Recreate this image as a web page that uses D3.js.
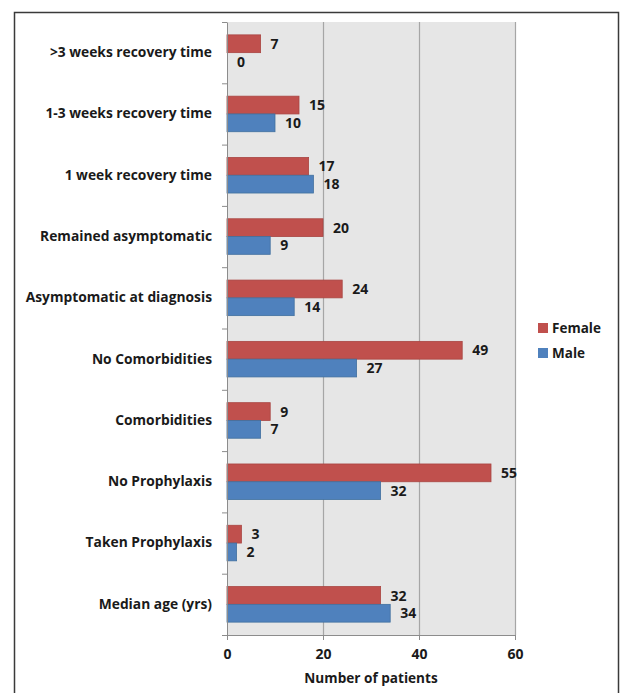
<!DOCTYPE html>
<html>
<head>
<meta charset="utf-8">
<script src="https://cdn.jsdelivr.net/npm/d3@7"></script>
<style>
  body { margin: 0; background: #fff; }
  svg { display: block; font-family: "Open Sans", sans-serif; }
</style>
</head>
<body>
<svg id="chart" width="620" height="693"></svg>
<script>
// categories top to bottom
const categories = [
  ">3 weeks recovery time",
  "1-3 weeks recovery time",
  "1 week recovery time",
  "Remained asymptomatic",
  "Asymptomatic at diagnosis",
  "No Comorbidities",
  "Comorbidities",
  "No Prophylaxis",
  "Taken Prophylaxis",
  "Median age (yrs)"
];
const femaleValues = [7, 15, 17, 20, 24, 49, 9, 55, 3, 32];
const maleValues = [0, 10, 18, 9, 14, 27, 7, 32, 2, 34];
const seriesNames = ["Female", "Male"];
const xTicks = [0, 20, 40, 60];

const colors = { Female: "#c0504d", Male: "#4f81bd" };
const strokes = { Female: "#a94542", Male: "#41709f" };
const font = "'Open Sans', sans-serif";

const svg = d3.select("#chart");
const margin = { left: 227, right: 105, top: 22, bottom: 58 };
const width = 620, height = 693;

// outer frame
svg.append("rect")
  .attr("x", 14.5).attr("y", 12.5)
  .attr("width", 604).attr("height", 700)
  .attr("fill", "none")
  .attr("stroke", "#3a3a3a")
  .attr("stroke-width", 1.5);

const x = d3.scaleLinear()
  .domain([0, 60])
  .range([margin.left, width - margin.right]);

const y = d3.scaleBand()
  .domain(categories)
  .range([margin.top, height - margin.bottom])
  .paddingInner(0.42)
  .paddingOuter(0.21);

const ySub = d3.scaleBand()
  .domain(seriesNames)
  .range([0, y.bandwidth()]);

// plot background
svg.append("rect")
  .attr("x", x(0)).attr("y", margin.top)
  .attr("width", x(60) - x(0))
  .attr("height", height - margin.bottom - margin.top)
  .attr("fill", "#e6e6e6");

// gridlines
svg.append("g")
  .selectAll("line")
  .data(xTicks.filter(d => d > 0))
  .join("line")
  .attr("x1", d => x(d) + 0.5).attr("x2", d => x(d) + 0.5)
  .attr("y1", margin.top).attr("y2", height - margin.bottom)
  .attr("stroke", "#a6a6a6")
  .attr("stroke-width", 1.2);

const data = categories.map((c, i) => ({
  cat: c,
  vals: [
    { s: "Female", v: femaleValues[i] },
    { s: "Male", v: maleValues[i] }
  ]
}));

const groups = svg.append("g")
  .selectAll("g")
  .data(data)
  .join("g")
  .attr("transform", d => `translate(0,${y(d.cat)})`);

groups.selectAll("rect")
  .data(d => d.vals)
  .join("rect")
  .attr("x", x(0))
  .attr("y", d => ySub(d.s))
  .attr("width", d => x(d.v) - x(0))
  .attr("height", ySub.bandwidth())
  .attr("fill", d => colors[d.s])
  .attr("stroke", d => d.v > 0 ? strokes[d.s] : "none")
  .attr("stroke-width", 0.8);

groups.selectAll("text")
  .data(d => d.vals)
  .join("text")
  .attr("x", d => x(d.v) + 10)
  .attr("y", d => ySub(d.s) + ySub.bandwidth() / 2)
  .attr("dy", "0.36em")
  .attr("font-size", 14)
  .attr("font-weight", "bold")
  .attr("fill", "#1a1a1a")
  .text(d => d.v);

// y axis
const yAxis = svg.append("g")
  .attr("transform", `translate(${x(0)},0)`)
  .call(d3.axisLeft(y).tickSize(0).tickPadding(15));
yAxis.select(".domain").attr("stroke", "#8c8c8c");
yAxis.selectAll("text")
  .attr("font-size", 13.8)
  .attr("font-weight", "bold")
  .attr("font-family", font)
  .attr("fill", "#1a1a1a");

// y tick marks at band boundaries
const bounds = d3.range(categories.length + 1).map(i => margin.top + i * y.step());
svg.append("g")
  .selectAll("line")
  .data(bounds)
  .join("line")
  .attr("x1", x(0) - 5).attr("x2", x(0))
  .attr("y1", d => d + 0.5).attr("y2", d => d + 0.5)
  .attr("stroke", "#8c8c8c");

// x axis
const xAxis = svg.append("g")
  .attr("transform", `translate(0,${height - margin.bottom})`)
  .call(d3.axisBottom(x).tickValues(xTicks).tickSize(5).tickPadding(9));
xAxis.select(".domain").attr("stroke", "#8c8c8c");
xAxis.selectAll(".tick line").attr("stroke", "#8c8c8c");
xAxis.selectAll("text")
  .attr("font-size", 14)
  .attr("font-weight", "bold")
  .attr("font-family", font)
  .attr("fill", "#1a1a1a");

svg.append("text")
  .attr("x", (x(0) + x(60)) / 2)
  .attr("y", 683)
  .attr("text-anchor", "middle")
  .attr("font-size", 13.6)
  .attr("font-weight", "bold")
  .attr("fill", "#1a1a1a")
  .text("Number of patients");

// legend
const legend = svg.append("g")
  .selectAll("g")
  .data(seriesNames)
  .join("g")
  .attr("transform", (d, i) => `translate(538,${323 + i * 25})`);
legend.append("rect")
  .attr("width", 10).attr("height", 10)
  .attr("fill", d => colors[d]);
legend.append("text")
  .attr("x", 14).attr("y", 5)
  .attr("dy", "0.36em")
  .attr("font-size", 13.5)
  .attr("font-weight", "bold")
  .attr("fill", "#1a1a1a")
  .text(d => d);
</script>
</body>
</html>
